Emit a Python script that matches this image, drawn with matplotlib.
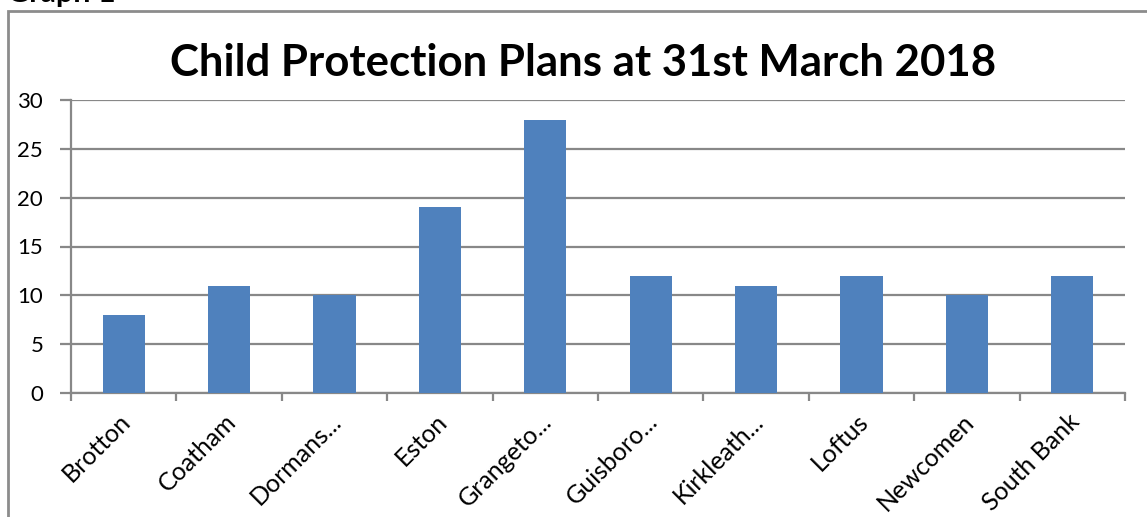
import numpy as np
import matplotlib.pyplot as plt
import matplotlib.transforms as mtransforms
from matplotlib.patches import Rectangle

# data
areas = ['Brotton', 'Coatham', 'Dormans...', 'Eston', 'Grangeto...',
         'Guisboro...', 'Kirkleath...', 'Loftus', 'Newcomen', 'South Bank']
plans = [8, 11, 10, 19, 28, 12, 11, 12, 10, 12]
yticks = [0, 5, 10, 15, 20, 25, 30]

bar_color = '#4F81BD'
grid_color = '#888888'
font = 'Lato'

fig = plt.figure(figsize=(11.47, 5.17), dpi=100, facecolor='w')
ax = fig.add_axes([71 / 1147, 1 - 393 / 517, (1125 - 71) / 1147, (393 - 100) / 517])

x = np.arange(len(areas))
ax.bar(x, plans, width=0.4, color=bar_color, zorder=3)

ax.set_xlim(-0.5, len(areas) - 0.5)
ax.set_ylim(0, 30)
ax.set_yticks(yticks)
ax.set_yticklabels([str(t) for t in yticks], fontsize=16, family=font)
ax.yaxis.grid(True, color=grid_color, linewidth=1.6, zorder=0)

# category ticks sit between the bars
ax.set_xticks(np.arange(len(areas) + 1) - 0.5)
ax.set_xticklabels([])
ax.set_xticks(x, minor=True)
ax.set_xticklabels(areas, minor=True, rotation=45, ha='right',
                   rotation_mode='anchor', fontsize=18, family=font)
ax.tick_params(axis='x', which='minor', length=0, pad=12)
ax.tick_params(axis='x', which='major', length=6, width=1.6, color=grid_color)
ax.tick_params(axis='y', length=8, width=1.6, color=grid_color, pad=12)

# nudge the slanted labels a little to the left, like the original
shift = mtransforms.ScaledTranslation(-5 / 100, 0, fig.dpi_scale_trans)
for lbl in ax.get_xticklabels(minor=True):
    lbl.set_transform(lbl.get_transform() + shift)

for side in ['top', 'right']:
    ax.spines[side].set_visible(False)
for side in ['left', 'bottom']:
    ax.spines[side].set_color(grid_color)
    ax.spines[side].set_linewidth(1.6)

fig.text(583 / 1147, 1 - 63 / 517, 'Child Protection Plans at 31st March 2018',
         ha='center', va='center', fontsize=31.5, fontweight='bold', family=font)

# outer chart frame, runs off the right and bottom of the picture
fig.patches.append(Rectangle((8 / 1147, -0.1), 1.2, 1 - 11 / 517 + 0.1,
                             transform=fig.transFigure, fill=False,
                             edgecolor='#8c8c8c', linewidth=2))
# heading above the frame is cropped in the original picture
fig.text(7 / 1147, 1 - 2 / 517, 'Graph 1', ha='left', va='baseline',
         fontsize=22, fontweight='bold', family=font)

plt.savefig('out.png', dpi=100)
plt.close()
